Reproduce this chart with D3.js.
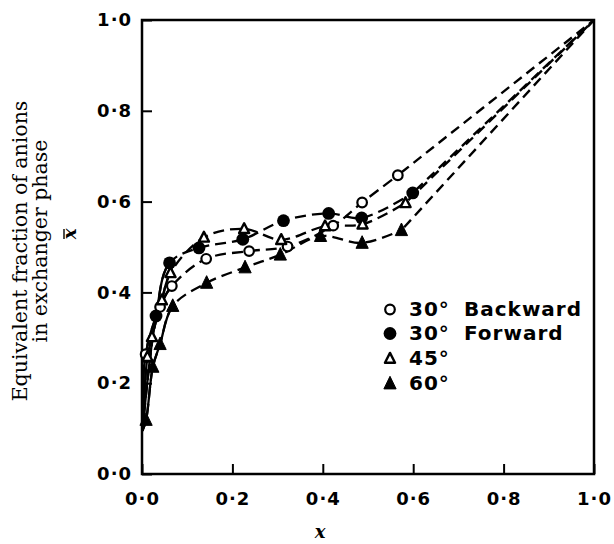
<!DOCTYPE html>
<html><head><meta charset="utf-8">
<script src="https://cdn.jsdelivr.net/npm/d3@7"></script>
<style>body{margin:0;background:#fff}</style>
</head><body>
<svg id="c" width="614" height="544"></svg>
<script>
// ---- data ----
const xTicks = [0, 0.2, 0.4, 0.6, 0.8, 1.0];
const yTicks = [0, 0.2, 0.4, 0.6, 0.8, 1.0];
const seriesNames = ["30° Backward", "30° Forward", "45°", "60°"];
const legendAngle = ["30°", "30°", "45°", "60°"];
const legendWord = ["Backward", "Forward", "", ""];

const backX = [0.008, 0.040, 0.066, 0.142, 0.237, 0.322, 0.423, 0.487, 0.566];
const backY = [0.264, 0.368, 0.414, 0.474, 0.491, 0.501, 0.547, 0.598, 0.658];
const fwdX  = [0.031, 0.061, 0.126, 0.223, 0.313, 0.413, 0.486, 0.599];
const fwdY  = [0.348, 0.465, 0.498, 0.517, 0.558, 0.574, 0.564, 0.619];
const d45X  = [0.012, 0.022, 0.044, 0.063, 0.137, 0.226, 0.308, 0.405, 0.488, 0.583];
const d45Y  = [0.258, 0.302, 0.383, 0.443, 0.521, 0.540, 0.516, 0.546, 0.550, 0.597];
const d60X  = [0.009, 0.024, 0.040, 0.068, 0.143, 0.228, 0.306, 0.395, 0.487, 0.574];
const d60Y  = [0.119, 0.236, 0.286, 0.370, 0.421, 0.455, 0.483, 0.524, 0.509, 0.537];
const curveStart = [0.001, 0.095];
const endPoint = [1.0, 1.0];

const W = 614, H = 544;
const L = 142, R = 594, T = 20, B = 474;
const svg = d3.select("#c");
const x = d3.scaleLinear().domain([0, 1]).range([L, R]);
const y = d3.scaleLinear().domain([0, 1]).range([B, T]);
const fmt = d => d.toFixed(1).replace(".", "·");

const series = [
  {name: seriesNames[0], xs: backX, ys: backY, type: "openCircle"},
  {name: seriesNames[1], xs: fwdX,  ys: fwdY,  type: "filledCircle"},
  {name: seriesNames[2], xs: d45X,  ys: d45Y,  type: "openTri"},
  {name: seriesNames[3], xs: d60X,  ys: d60Y,  type: "filledTri"}
];

svg.append("defs").append("clipPath").attr("id", "solidClip")
  .append("rect").attr("x", 0).attr("y", 0).attr("width", x(0.068)).attr("height", H);

const tickFont = "'DejaVu Sans', sans-serif";

const gx = svg.append("g").attr("transform", `translate(0,${B})`)
  .call(d3.axisBottom(x).tickValues(xTicks).tickSizeInner(-10).tickSizeOuter(0).tickPadding(18).tickFormat(fmt));
const gy = svg.append("g").attr("transform", `translate(${L},0)`)
  .call(d3.axisLeft(y).tickValues(yTicks).tickSizeInner(-10).tickSizeOuter(0).tickPadding(10).tickFormat(fmt));
[gx, gy].forEach(g => {
  g.select(".domain").remove();
  g.selectAll(".tick line").attr("stroke", "#000").attr("stroke-width", 2);
  g.selectAll(".tick text").attr("font-family", tickFont).attr("font-weight", "bold")
    .attr("font-size", 18).attr("fill", "#000").attr("letter-spacing", 1);
});

svg.append("rect").attr("x", L).attr("y", T).attr("width", R - L).attr("height", B - T)
  .attr("fill", "none").attr("stroke", "#000").attr("stroke-width", 2.5);

const line = d3.line().x(d => x(d[0])).y(d => y(d[1])).curve(d3.curveCatmullRom.alpha(0.5));
const straight = d3.line().x(d => x(d[0])).y(d => y(d[1]));
series.forEach(s => {
  const pts = [curveStart].concat(s.xs.map((v, i) => [v, s.ys[i]]));
  svg.append("path").attr("d", line(pts)).attr("fill", "none").attr("stroke", "#000")
    .attr("stroke-width", 2.3).attr("stroke-dasharray", "11,6");
  svg.append("path").attr("d", line(pts)).attr("fill", "none").attr("stroke", "#000")
    .attr("stroke-width", 2.3).attr("clip-path", "url(#solidClip)");
  const last = pts[pts.length - 1];
  svg.append("path").attr("d", straight([last, endPoint])).attr("fill", "none").attr("stroke", "#000")
    .attr("stroke-width", 2.4).attr("stroke-dasharray", "10,6").attr("stroke-dashoffset", -4);
});

function marker(g, type, cx, cy, scale) {
  const k = scale || 1;
  if (type === "openCircle") {
    g.append("circle").attr("cx", cx).attr("cy", cy).attr("r", 4.8 * k)
      .attr("fill", "#fff").attr("stroke", "#000").attr("stroke-width", 2.2);
  } else if (type === "filledCircle") {
    g.append("circle").attr("cx", cx).attr("cy", cy).attr("r", 6.4 * k).attr("fill", "#000");
  } else if (type === "openTri") {
    const s = 5.6 * k;
    g.append("path").attr("d", `M${cx},${cy - s}L${cx + s * 0.9},${cy + s * 0.75}L${cx - s * 0.9},${cy + s * 0.75}Z`)
      .attr("fill", "#fff").attr("stroke", "#000").attr("stroke-width", 2.4).attr("stroke-linejoin", "round");
  } else {
    const s = 7.2 * k;
    g.append("path").attr("d", `M${cx},${cy - s}L${cx + s * 0.85},${cy + s * 0.75}L${cx - s * 0.85},${cy + s * 0.75}Z`)
      .attr("fill", "#000").attr("stroke", "#000").attr("stroke-width", 1).attr("stroke-linejoin", "round");
  }
}
const mg = svg.append("g");
series.forEach(s => {
  s.xs.forEach((v, i) => marker(mg, s.type, x(v), y(s.ys[i])));
});

const lg = svg.append("g");
const rowsY = [316, 340, 365, 390];
series.forEach((s, i) => {
  marker(lg, s.type, 390, rowsY[i] - 6.5, 1);
  lg.append("text").attr("x", 409).attr("y", rowsY[i]).text(legendAngle[i])
    .attr("font-family", tickFont).attr("font-weight", "bold").attr("font-size", 20).attr("fill", "#000")
    .attr("letter-spacing", 1);
  if (legendWord[i]) lg.append("text").attr("x", 464).attr("y", rowsY[i]).text(legendWord[i])
    .attr("font-family", tickFont).attr("font-weight", "bold").attr("font-size", 20).attr("fill", "#000")
    .attr("letter-spacing", 1);
});

const serif = "'DejaVu Serif', serif";
const yt = svg.append("g");
yt.append("text").attr("transform", "translate(27,251) rotate(-90)").attr("text-anchor", "middle")
  .attr("font-family", serif).attr("font-size", 20.5).attr("fill", "#000").text("Equivalent fraction of anions");
yt.append("text").attr("transform", "translate(47,241) rotate(-90)").attr("text-anchor", "middle")
  .attr("font-family", serif).attr("font-size", 20.5).attr("fill", "#000").text("in exchanger phase");
const xb = svg.append("g").attr("transform", "translate(76,234) rotate(-90)");
xb.append("text").attr("text-anchor", "middle").attr("font-family", serif).attr("font-style", "italic")
  .attr("font-weight", "bold").attr("font-size", 18).attr("fill", "#000").text("x");
xb.append("line").attr("x1", -5).attr("x2", 5).attr("y1", -12).attr("y2", -12).attr("stroke", "#000").attr("stroke-width", 1.4);

svg.append("text").attr("x", 320).attr("y", 538).attr("text-anchor", "middle")
  .attr("font-family", serif).attr("font-style", "italic").attr("font-weight", "bold").attr("font-size", 18)
  .attr("fill", "#000").text("x");
</script>
</body></html>
